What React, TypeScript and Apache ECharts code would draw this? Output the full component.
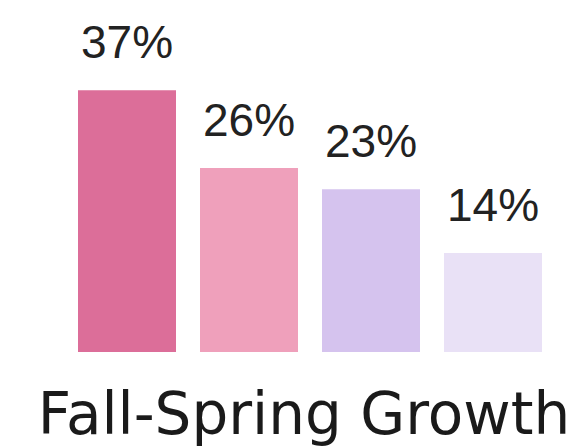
import React, { useEffect, useRef } from "react";
import * as echarts from "echarts";

const categories = ["A", "B", "C", "D"];
const values = [37, 26, 23, 14];
const barColors = ["#dc6e99", "#efa0bb", "#d5c3ee", "#e9e1f6"];
const axisTitle = "Fall-Spring Growth";

export default function App() {
  const ref = useRef<HTMLDivElement>(null);
  useEffect(() => {
    if (!ref.current) return;
    const chart = echarts.init(ref.current, null, { renderer: "svg" });
    chart.setOption({
      animation: false,
      backgroundColor: "#ffffff",
      grid: { left: 66, right: 30, top: 69, bottom: 95, containLabel: false },
      xAxis: {
        type: "category",
        data: categories,
        axisLine: { show: false },
        axisTick: { show: false },
        axisLabel: { show: false },
      },
      yAxis: {
        type: "value",
        min: 0,
        max: 40,
        show: false,
        splitLine: { show: false },
      },
      graphic: [
        {
          type: "text",
          x: 304,
          y: 414,
          style: {
            text: axisTitle,
            fill: "#1a1a1a",
            font: "58px 'DejaVu Sans', sans-serif",
            textAlign: "center",
            textVerticalAlign: "middle",
          },
        },
      ],
      series: [
        {
          type: "bar",
          barWidth: 98,
          data: values.map((v, i) => ({ value: v, itemStyle: { color: barColors[i] } })),
          label: {
            show: true,
            position: "top",
            distance: 25,
            formatter: "{c}%",
            color: "#222222",
            fontSize: 46,
            fontFamily: "'Liberation Sans', Arial, sans-serif",
          },
        },
      ],
    });
    return () => chart.dispose();
  }, []);
  return (
    <div
      ref={ref}
      style={{ position: "fixed", left: 0, top: 0, width: 584, height: 447 }}
    />
  );
}
